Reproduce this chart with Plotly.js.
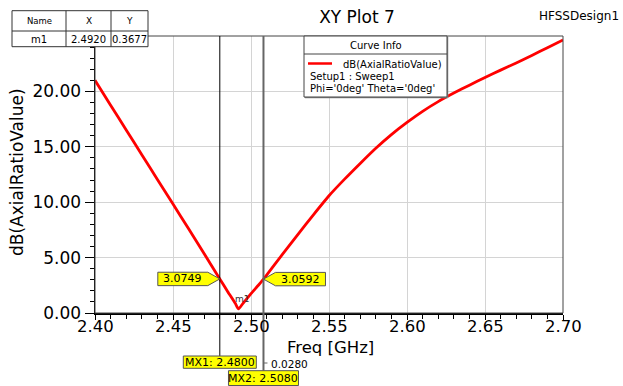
<!DOCTYPE html>
<html>
<head>
<meta charset="utf-8">
<script src="https://cdn.plot.ly/plotly-3.0.1.min.js"></script>
<style>html,body{margin:0;padding:0;background:#fff;}#chart{width:623px;height:386px;}</style>
</head>
<body>
<div id="chart"></div>
<script>
// ---- data ----
const freq = [2.40, 2.41, 2.42, 2.43, 2.44, 2.45, 2.46, 2.47, 2.48, 2.485, 2.49, 2.492, 2.495, 2.50, 2.505, 2.508, 2.51, 2.52, 2.53, 2.54, 2.55, 2.56, 2.57, 2.58, 2.59, 2.60, 2.61, 2.62, 2.63, 2.64, 2.65, 2.66, 2.67, 2.68, 2.69, 2.70];
const axialRatioDb = [21.0, 18.76, 16.52, 14.28, 12.06, 9.84, 7.6, 5.35, 3.0749, 1.95, 0.85, 0.3677, 0.9, 1.75, 2.55, 3.0592, 3.42, 5.26, 7.08, 8.86, 10.58, 12.08, 13.5, 14.87, 16.1, 17.2, 18.2, 19.08, 19.85, 20.56, 21.26, 21.92, 22.56, 23.24, 23.95, 24.65];

const markerName = ['m1'];
const markerX = [2.4920];
const markerY = [0.3677];

const mxNames = ['MX1', 'MX2'];
const mxFreq = [2.4800, 2.5080];
const mxValue = [3.0749, 3.0592];

const xTickVals = [2.40, 2.45, 2.50, 2.55, 2.60, 2.65, 2.70];
const yTickVals = [0, 5, 10, 15, 20];

const legendLines = ['dB(AxialRatioValue)', 'Setup1 : Sweep1', "Phi='0deg' Theta='0deg'"];

// ---- layout helpers (pixel -> paper) ----
const W = 623, H = 386;
const L = 95, R = 563, T = 36, B = 313;
const px = x => (x - L) / (R - L);
const py = y => (B - y) / (B - T);
const FONT = 'DejaVu Sans, Liberation Sans, Arial, sans-serif';

const shapes = [];
const annotations = [];

function txt(x, y, text, size, anchor, extra) {
  annotations.push(Object.assign({
    xref: 'paper', yref: 'paper', x: px(x), y: py(y), text: text,
    showarrow: false, xanchor: anchor || 'center', yanchor: 'middle',
    font: {family: FONT, size: size, color: '#000'}
  }, extra || {}));
}
function rect(x0, y0, x1, y1, fill, lc, lw) {
  shapes.push({type: 'rect', xref: 'paper', yref: 'paper', x0: px(x0), x1: px(x1), y0: py(y1), y1: py(y0),
    fillcolor: fill, line: {color: lc, width: lw}, layer: 'above'});
}
function pline(x0, y0, x1, y1, lc, lw) {
  shapes.push({type: 'line', xref: 'paper', yref: 'paper', x0: px(x0), x1: px(x1), y0: py(y0), y1: py(y1),
    line: {color: lc, width: lw}, layer: 'above'});
}

// plot frame (top / right)
rect(L, T, R, B, 'rgba(0,0,0,0)', '#444', 1);

// x tick labels (tight boxes)
xTickVals.forEach(v => {
  annotations.push({xref: 'x', yref: 'paper', x: v, y: py(326.5), text: v.toFixed(2),
    showarrow: false, xanchor: 'center', yanchor: 'middle', borderpad: 0,
    font: {family: FONT, size: 16.5, color: '#000'}});
});

// axis titles
txt(330, 347.5, 'Freq [GHz]', 16.5, 'center', {borderpad: 0});
txt(17, 172, 'dB(AxialRatioValue)', 17, 'center', {textangle: -90});

// marker table (top-left)
rect(12, 10.7, 148, 46.7, '#fff', '#333', 1);
pline(66, 10.7, 66, 46.7, '#333', 1);
pline(111, 10.7, 111, 46.7, '#333', 1);
pline(12, 31, 148, 31, '#333', 1);
txt(39, 20.5, 'Name', 8.5);
txt(88.5, 20.5, 'X', 9);
txt(129.5, 20.5, 'Y', 9);
txt(39, 39.5, markerName[0], 10);
txt(88.5, 39.5, markerX[0].toFixed(4), 10);
txt(129.5, 39.5, markerY[0].toFixed(4), 10);

// curve info box
rect(305, 37, 448, 98, '#888', '#888', 0.5);
rect(304, 36, 447, 97, '#fff', '#444', 1);
pline(304, 54, 447, 54, '#444', 1);
txt(375.5, 45, 'Curve Info', 10);
pline(308, 63.5, 332, 63.5, '#ff0000', 2.5);
txt(341, 64, legendLines[0], 10, 'left');
txt(308, 76.5, legendLines[1], 10, 'left');
txt(308, 88, legendLines[2], 10, 'left');

// design name
txt(621, 16, 'HFSSDesign1', 12, 'right');

// marker lines
const lineStyles = [{color: '#000', width: 1}, {color: '#666', width: 2}];
const lineBottoms = [356, 370.7];
mxFreq.forEach((f, i) => {
  shapes.push({type: 'line', xref: 'x', yref: 'paper', x0: f, x1: f, y0: py(lineBottoms[i]), y1: 1,
    line: lineStyles[i], layer: 'above'});
});
// value callouts on the curve
const dir = [-1, 1];
mxFreq.forEach((f, i) => {
  const d = dir[i];
  shapes.push({type: 'path', xref: 'x', yref: 'y', xsizemode: 'pixel', ysizemode: 'pixel',
    xanchor: f, yanchor: mxValue[i],
    path: `M0,0 L${12*d},6.7 L${62*d},6.7 L${62*d},-6.7 L${12*d},-6.7 Z`,
    fillcolor: '#ffff00', line: {color: '#555', width: 1}, layer: 'above'});
  annotations.push({xref: 'x', yref: 'y', x: f, y: mxValue[i], xshift: 37*d, text: mxValue[i].toFixed(4),
    showarrow: false, xanchor: 'center', yanchor: 'middle', font: {family: FONT, size: 11, color: '#000'}});
});
// frequency boxes under the axis
const boxTop = [356, 370.7], boxBot = [368.3, 385.5], boxHalf = [36.5, 35];
mxFreq.forEach((f, i) => {
  shapes.push({type: 'rect', xref: 'x', yref: 'paper', xsizemode: 'pixel', xanchor: f,
    x0: -boxHalf[i], x1: boxHalf[i], y0: py(boxBot[i]), y1: py(boxTop[i]),
    fillcolor: '#ffff00', line: {color: '#555', width: 1}, layer: 'above'});
  annotations.push({xref: 'x', yref: 'paper', x: f, y: py((boxTop[i] + boxBot[i]) / 2),
    text: mxNames[i] + ': ' + f.toFixed(4), showarrow: false, xanchor: 'center', yanchor: 'middle',
    font: {family: FONT, size: 11, color: '#000'}});
});
// delta indicator
shapes.push({type: 'line', xref: 'x', yref: 'paper', xsizemode: 'pixel', xanchor: mxFreq[1],
  x0: 0, x1: 4, y0: py(363), y1: py(363), line: {color: '#666', width: 1}, layer: 'above'});
annotations.push({xref: 'x', yref: 'paper', x: mxFreq[1], xshift: 7, y: py(364),
  text: (mxFreq[1] - mxFreq[0]).toFixed(4), showarrow: false, xanchor: 'left', yanchor: 'middle',
  borderpad: 0, font: {family: FONT, size: 10.5, color: '#000'}});

// m1 label at the minimum
annotations.push({xref: 'x', yref: 'y', x: markerX[0], y: markerY[0], xshift: 4, yshift: 10,
  text: markerName[0], showarrow: false, xanchor: 'center', yanchor: 'middle',
  font: {family: FONT, size: 9, color: '#333'}});

const trace = {
  x: freq, y: axialRatioDb, type: 'scatter', mode: 'lines',
  line: {color: '#ff0000', width: 2.8, shape: 'spline', smoothing: 0.5}, hoverinfo: 'x+y', showlegend: false
};

const layout = {
  width: W, height: H,
  margin: {l: L, r: W - R, t: T, b: H - B},
  paper_bgcolor: '#fff', plot_bgcolor: '#fff',
  showlegend: false,
  font: {family: FONT, color: '#000'},
  title: {text: 'XY Plot 7', font: {family: FONT, size: 17, color: '#000'},
    xref: 'container', yref: 'container', x: 357 / W, y: 1 - 17 / H, xanchor: 'center', yanchor: 'middle'},
  xaxis: {
    range: [2.40, 2.70], tickvals: xTickVals, showticklabels: false,
    ticks: 'outside', ticklen: 5, tickwidth: 1, tickcolor: '#000',
    showgrid: true, gridcolor: '#d4d4d4', gridwidth: 1,
    showline: true, linecolor: '#000', linewidth: 2, zeroline: false,
    minor: {dtick: 0.01, ticks: 'outside', ticklen: 3.5, tickcolor: '#000', showgrid: false},
    automargin: false
  },
  yaxis: {
    range: [0, 25], tickvals: yTickVals, tickformat: '.2f',
    ticks: 'outside', ticklen: 9, tickwidth: 1, tickcolor: '#000',
    tickfont: {family: FONT, size: 17, color: '#000'},
    showgrid: true, gridcolor: '#d4d4d4', gridwidth: 1,
    showline: true, linecolor: '#000', linewidth: 1.5, zeroline: false,
    minor: {dtick: 1, ticks: 'outside', ticklen: 4, tickcolor: '#000', showgrid: false},
    automargin: false
  },
  shapes: shapes,
  annotations: annotations
};

Plotly.newPlot('chart', [trace], layout, {displayModeBar: false, staticPlot: true});
</script>
</body>
</html>
